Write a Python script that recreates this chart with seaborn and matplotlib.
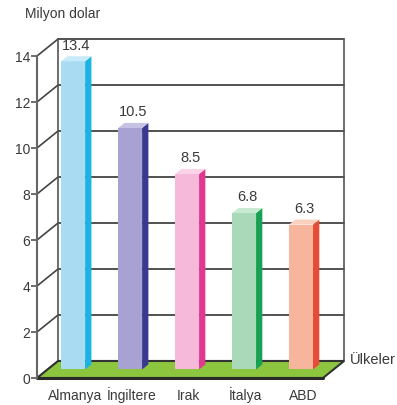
import numpy as np
import pandas as pd
import seaborn as sns
import matplotlib.pyplot as plt
from matplotlib.patches import Polygon

countries = ["Almanya", "İngiltere", "Irak", "İtalya", "ABD"]
values = [13.4, 10.5, 8.5, 6.8, 6.3]
face_colors = ["#a9dcf3", "#a8a2d2", "#f6b9d9", "#a9d9b9", "#f6b59c"]
side_colors = ["#1cb2e2", "#3a3990", "#e2368f", "#17a153", "#e84b36"]
cap_colors = ["#c8ebfa", "#c6c2e6", "#fad3e7", "#c8e9d2", "#fad0bf"]
y_ticks = [0, 2, 4, 6, 8, 10, 12, 14]

sns.set_theme(style="white")
plt.rcParams['font.family'] = ['Liberation Sans', 'DejaVu Sans']

# depth of the 3d box, in data units
DX, DY = 0.37, 0.74
hx, hy = DX / 2, DY / 2
sdx, sdy = 0.11, 0.22
xl, xr = -0.45, 4.57
txt = "#3a3a3a"

fig = plt.figure(figsize=(3.97, 4.06), dpi=100)
ax = fig.add_axes([37 / 397, 27 / 406, 286 / 397, 356.5 / 406])

df = pd.DataFrame({"country": countries, "value": values})
sns.barplot(data=df, x="country", y="value", hue="country",
            palette=face_colors, width=0.42, legend=False, ax=ax,
            saturation=1, zorder=4)
bars = list(ax.patches)

ax.set_xlim(xl, xr)
ax.set_ylim(0, 15.5)

# back wall and depth connectors
for v in y_ticks:
    ax.plot([xl, xl + DX], [v, v + DY], color="#444444", lw=1.2,
            zorder=1, clip_on=False)
    if v > 0:
        ax.plot([xl + DX, xr + DX], [v + DY, v + DY], color="#333333",
                lw=1.2, zorder=1, clip_on=False)
for xx in [xl + DX, xr + DX]:
    ax.plot([xx, xx], [DY, 14 + DY], color="#555555", lw=1.2, zorder=1,
            clip_on=False)

# floor
floor = Polygon([(xl, 0), (xr, 0), (xr + DX, DY), (xl + DX, DY)],
                closed=True, facecolor="#8cc63f", edgecolor="#333333",
                lw=1.5, zorder=2, clip_on=False)
ax.add_patch(floor)
ax.plot([xl, xr], [0, 0], color="#2a2a2a", lw=2.2, zorder=2,
        clip_on=False)

# bars: shift faces to middle depth, add side and top
for i, p in enumerate(bars):
    x0 = p.get_x() + hx
    w = p.get_width()
    h = p.get_height()
    p.set_x(x0)
    p.set_y(hy)
    p.set_edgecolor("none")
    x1 = x0 + w
    top = hy + h
    side = Polygon([(x1, hy), (x1 + sdx, hy + sdy), (x1 + sdx, top + sdy),
                    (x1, top)], closed=True, facecolor=side_colors[i],
                   edgecolor="none", zorder=4)
    cap = Polygon([(x0, top), (x1, top), (x1 + sdx, top + sdy),
                   (x0 + sdx, top + sdy)], closed=True,
                  facecolor=cap_colors[i], edgecolor="none", zorder=4)
    ax.add_patch(side)
    ax.add_patch(cap)
    ax.text(x0 + (w + sdx) / 2, top + sdy + 0.2, f"{values[i]}",
            ha="center", va="bottom", fontsize=10.5, color=txt)

ax.set_xticks(np.arange(len(countries)) + hx + 0.03)
ax.set_xticklabels(countries, fontsize=10, color=txt)
for lab in ax.get_xticklabels():
    lab.set_verticalalignment("baseline")
ax.set_yticks(y_ticks)
ax.set_yticklabels([str(v) for v in y_ticks], fontsize=10, color=txt)
ax.tick_params(axis="x", length=0, pad=15)
ax.tick_params(axis="y", length=4, width=1.2, color="#555555", pad=1,
               left=True)
ax.set_xlabel("")
ax.set_ylabel("")
for s in ["top", "right", "bottom"]:
    ax.spines[s].set_visible(False)
ax.spines["left"].set_bounds(0, 14)
ax.spines["left"].set_color("#666666")
ax.spines["left"].set_linewidth(1.5)
ax.patch.set_alpha(0)

fig.text(25 / 397, 1 - 14 / 406, "Milyon dolar", fontsize=10, color=txt,
         va="center", ha="left")
fig.text(350 / 397, 1 - 360 / 406, "Ülkeler", fontsize=10.5, color=txt,
         va="center", ha="left")

fig.savefig("out.png", dpi=100, facecolor="white")
